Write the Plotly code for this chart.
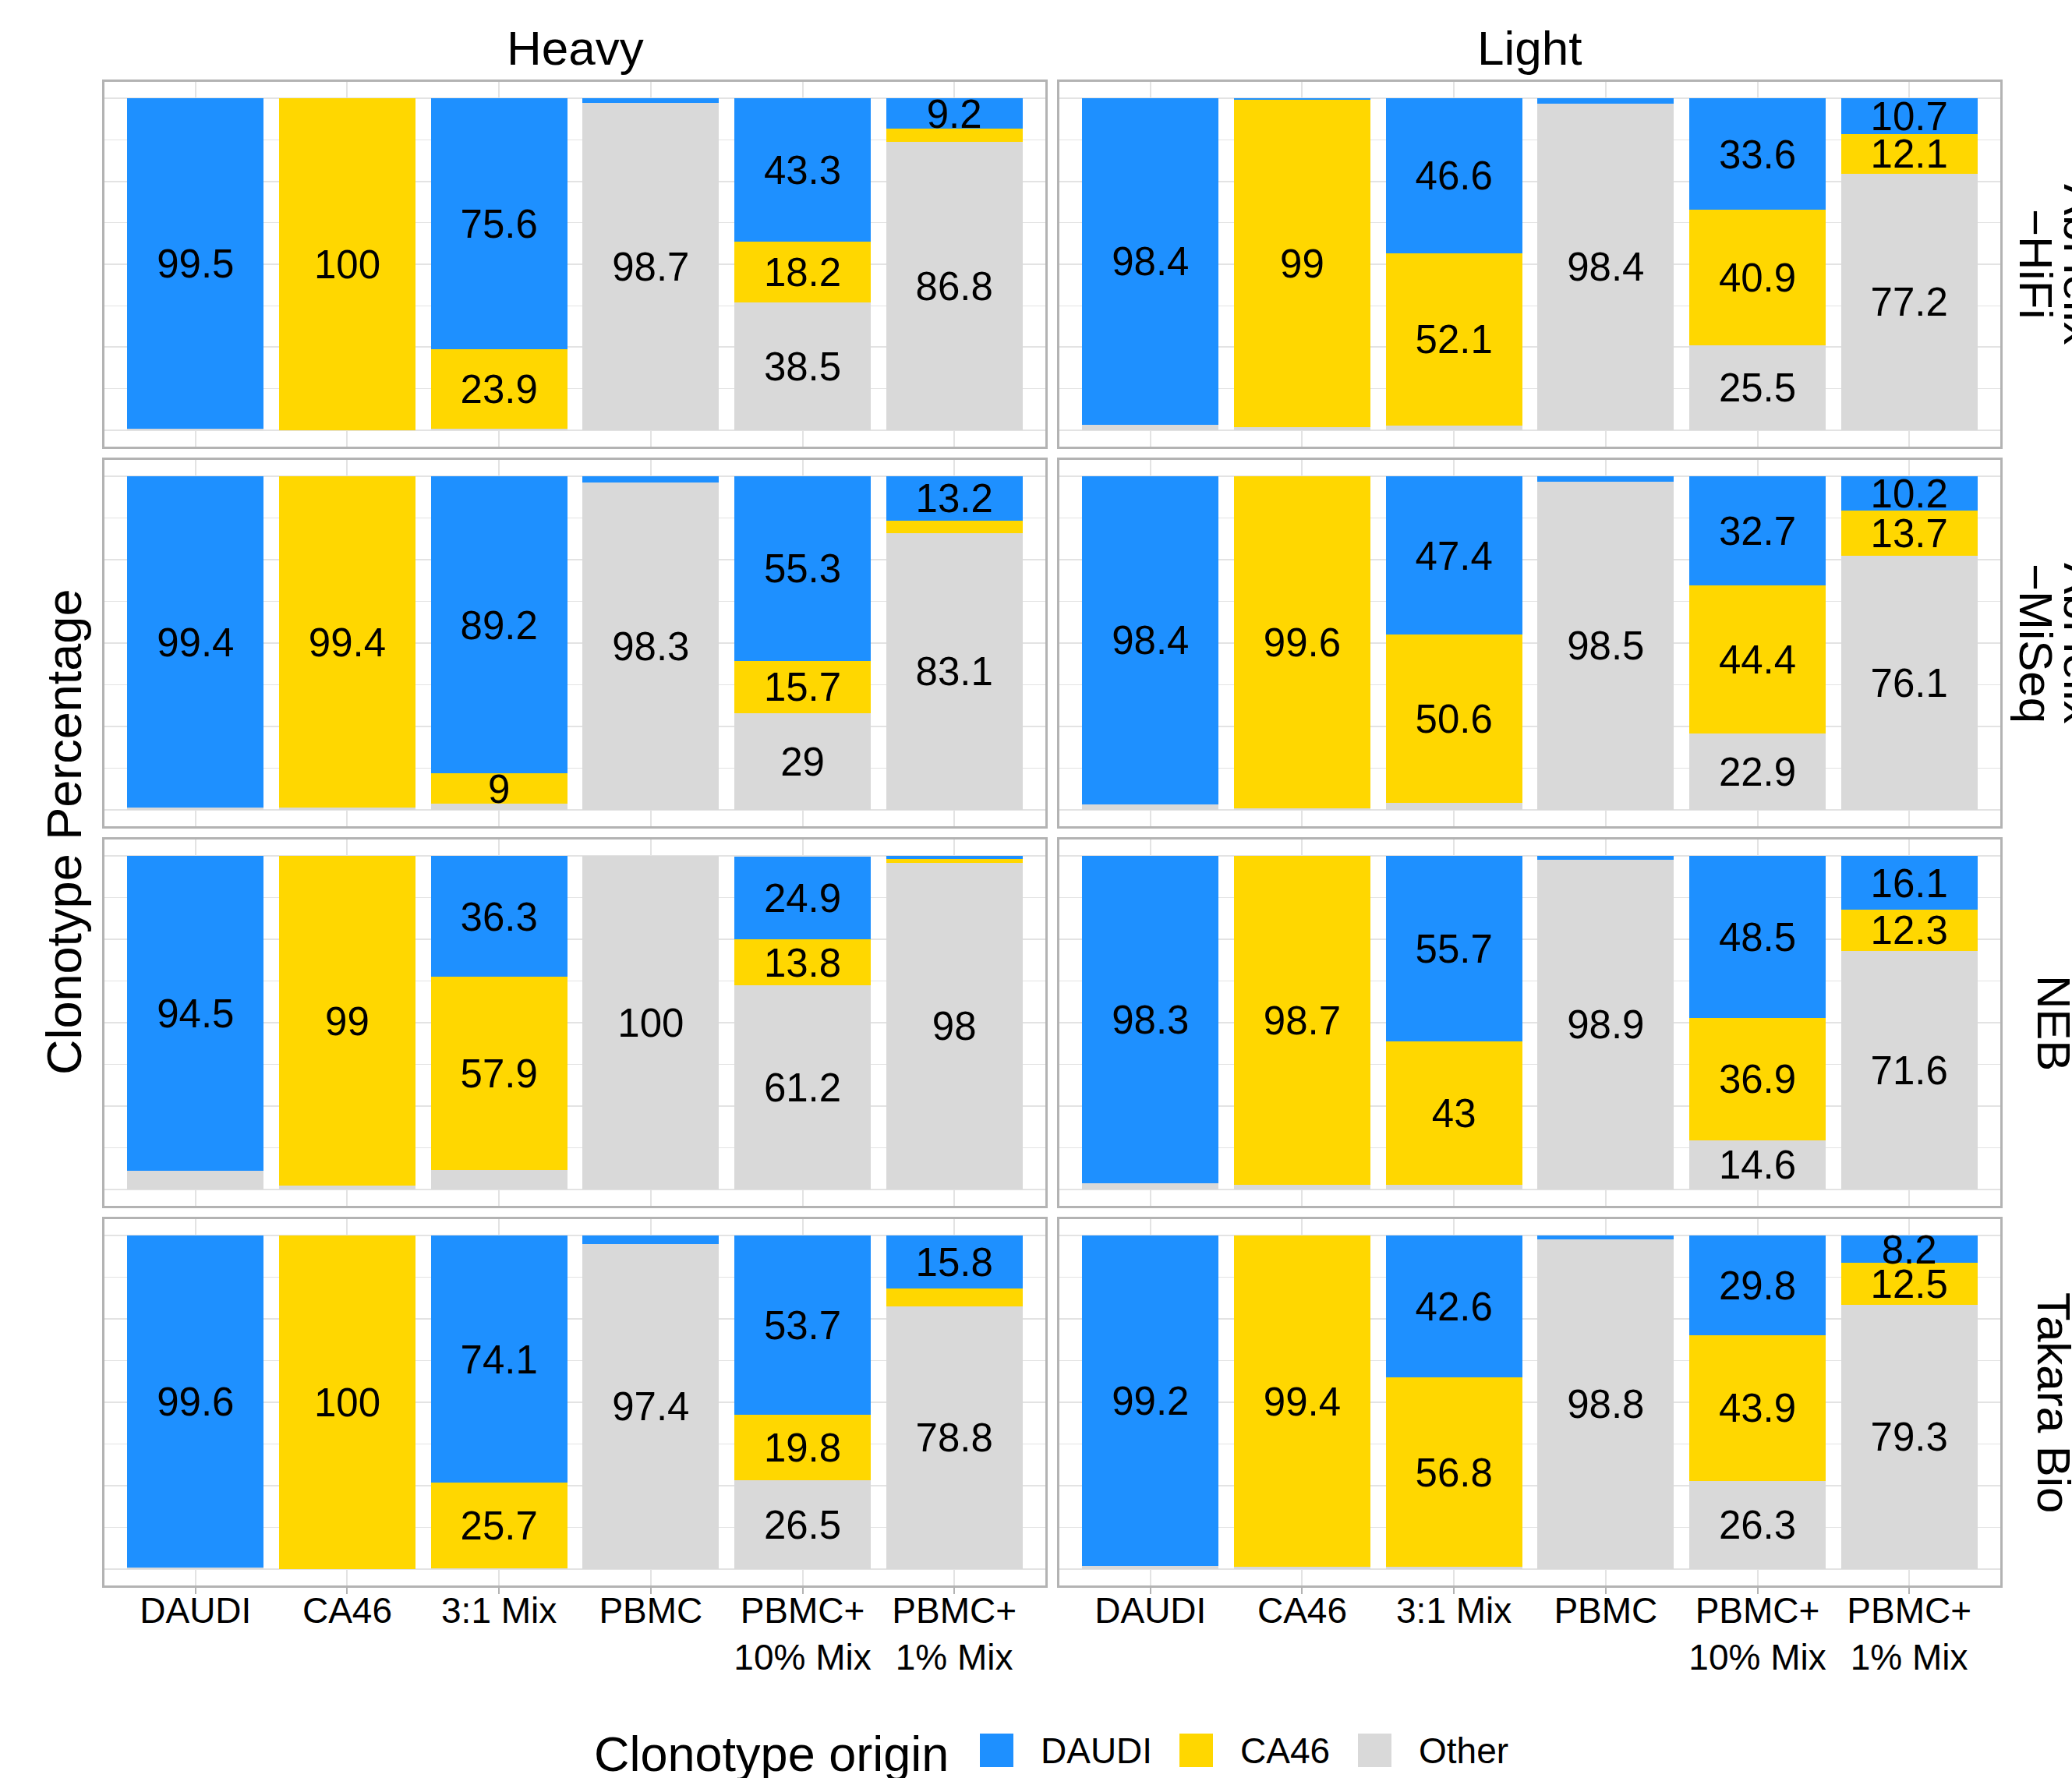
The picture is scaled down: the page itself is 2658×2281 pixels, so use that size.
import plotly.graph_objects as go

W, H = 2658, 2281

# ---------------- data ----------------
samples = ["DAUDI", "CA46", "3:1 Mix", "PBMC", "PBMC+ 10% Mix", "PBMC+ 1% Mix"]
sample_ticks = ["DAUDI", "CA46", "3:1 Mix", "PBMC", "PBMC+<br>10% Mix", "PBMC+<br>1% Mix"]
chains = ["Heavy", "Light"]
platform_line1 = ["AbHelix", "AbHelix", "NEB", "Takara Bio"]
platform_line2 = ["\u2212HiFi", "\u2212MiSeq", "", ""]
origins = ["DAUDI", "CA46", "Other"]

# rows: AbHelix-HiFi, AbHelix-MiSeq, NEB, Takara Bio ; columns follow `samples`
daudi_heavy = [
    [99.5, 0, 75.6, 1.3, 43.3, 9.2],
    [99.4, 0, 89.2, 1.7, 55.3, 13.2],
    [94.5, 0, 36.3, 0, 24.9, 0.8],
    [99.6, 0, 74.1, 2.6, 53.7, 15.8],
]
ca46_heavy = [
    [0, 100, 23.9, 0, 18.2, 4.0],
    [0, 99.4, 9, 0, 15.7, 3.7],
    [0, 99, 57.9, 0, 13.8, 1.2],
    [0, 100, 25.7, 0, 19.8, 5.4],
]
other_heavy = [
    [0.5, 0, 0.5, 98.7, 38.5, 86.8],
    [0.6, 0.6, 1.8, 98.3, 29, 83.1],
    [5.5, 1, 5.8, 100, 61.2, 98],
    [0.4, 0, 0.2, 97.4, 26.5, 78.8],
]
daudi_light = [
    [98.4, 0.2, 46.6, 1.6, 33.6, 10.7],
    [98.4, 0, 47.4, 1.5, 32.7, 10.2],
    [98.3, 0, 55.7, 1.1, 48.5, 16.1],
    [99.2, 0, 42.6, 1.2, 29.8, 8.2],
]
ca46_light = [
    [0, 99, 52.1, 0, 40.9, 12.1],
    [0, 99.6, 50.6, 0, 44.4, 13.7],
    [0, 98.7, 43, 0, 36.9, 12.3],
    [0, 99.4, 56.8, 0, 43.9, 12.5],
]
other_light = [
    [1.6, 0.8, 1.3, 98.4, 25.5, 77.2],
    [1.6, 0.4, 2.0, 98.5, 22.9, 76.1],
    [1.7, 1.3, 1.3, 98.9, 14.6, 71.6],
    [0.8, 0.6, 0.6, 98.8, 26.3, 79.3],
]

# ---------------- style ----------------
colors = {"DAUDI": "#1E90FF", "CA46": "#FFD700", "Other": "#D9D9D9"}
FONT = "Liberation Sans, Arial, Helvetica, sans-serif"
BORDER = "#b3b3b3"
GRID = "#e3e3e3"
LABEL_MIN = 6
LABEL_DY = -1.2   # small optical correction so glyphs sit at segment centres

col_px = [(134, 1341), (1359, 2566)]
row_px = [(105, 573), (590, 1060), (1077, 1547), (1564, 2034)]

data_by_chain = {
    "Heavy": (daudi_heavy, ca46_heavy, other_heavy),
    "Light": (daudi_light, ca46_light, other_light),
}


def fmt(v):
    return f"{v:g}"


fig = go.Figure()
layout_axes = {}

for r in range(4):
    for c, chain in enumerate(chains):
        k = r * 2 + c + 1
        xa = "x" if k == 1 else f"x{k}"
        ya = "y" if k == 1 else f"y{k}"
        d_arr, c_arr, o_arr = data_by_chain[chain]
        d = d_arr[r]
        ca = c_arr[r]
        o = o_arr[r]
        # stacked bars: Other bottom, CA46 middle, DAUDI top
        for name, vals in (("Other", o), ("CA46", ca), ("DAUDI", d)):
            fig.add_trace(go.Bar(
                x=samples, y=vals, name=name, marker_color=colors[name],
                marker_line_width=0, xaxis=xa, yaxis=ya, showlegend=False,
                hoverinfo="skip",
            ))
        # labels at segment centres
        lx, ly, lt = [], [], []
        for i, s in enumerate(samples):
            base = 0.0
            for vals in (o, ca, d):
                v = vals[i]
                if v >= LABEL_MIN:
                    lx.append(s)
                    ly.append(base + v / 2 + LABEL_DY)
                    lt.append(fmt(v))
                base += v
        fig.add_trace(go.Scatter(
            x=lx, y=ly, text=lt, mode="text", textposition="middle center",
            textfont=dict(size=51, color="black", family=FONT),
            xaxis=xa, yaxis=ya, showlegend=False, hoverinfo="skip",
        ))

        x0, x1 = col_px[c]
        y0, y1 = row_px[r]
        bottom = r == 3
        layout_axes[("xaxis" if k == 1 else f"xaxis{k}")] = dict(
            domain=[x0 / W, x1 / W], anchor=ya, type="category",
            categoryorder="array", categoryarray=samples,
            range=[-0.6, 5.6], showgrid=True, gridcolor=GRID, gridwidth=2,
            showline=True, mirror=True, linecolor=BORDER, linewidth=3,
            zeroline=False,
            ticks="outside" if bottom else "", ticklen=8, tickwidth=2,
            tickcolor=BORDER, ticklabelstandoff=-18,
            tickvals=samples, ticktext=sample_ticks,
            showticklabels=bottom,
            tickfont=dict(size=46, color="black", family=FONT),
            fixedrange=True,
        )
        layout_axes[("yaxis" if k == 1 else f"yaxis{k}")] = dict(
            domain=[1 - y1 / H, 1 - y0 / H], anchor=xa,
            range=[-5, 105], tick0=0, dtick=25, showgrid=True,
            gridcolor=GRID, gridwidth=2,
            minor=dict(dtick=12.5, showgrid=True, gridcolor=GRID, gridwidth=1),
            showticklabels=False, ticks="",
            showline=True, mirror=True, linecolor=BORDER, linewidth=3,
            zeroline=False, fixedrange=True,
        )

annotations = []
# column strips
for c, chain in enumerate(chains):
    x0, x1 = col_px[c]
    annotations.append(dict(
        text=chain, x=(x0 + x1) / 2 / W, y=1 - 62 / H, xref="paper", yref="paper",
        xanchor="center", yanchor="middle", showarrow=False,
        font=dict(size=62, color="black", family=FONT)))
# row strips (rotated, text reads top-to-bottom)
for r in range(4):
    y0, y1 = row_px[r]
    yc = 1 - (y0 + y1) / 2 / H
    if platform_line2[r]:
        annotations.append(dict(
            text=platform_line1[r], x=2668 / W, y=yc, xref="paper", yref="paper",
            xanchor="center", yanchor="middle", textangle=90, showarrow=False,
            font=dict(size=60, color="black", family=FONT)))
        annotations.append(dict(
            text=platform_line2[r], x=2611 / W, y=yc, xref="paper", yref="paper",
            xanchor="center", yanchor="middle", textangle=90, showarrow=False,
            font=dict(size=60, color="black", family=FONT)))
    else:
        annotations.append(dict(
            text=platform_line1[r], x=2635 / W, y=yc, xref="paper", yref="paper",
            xanchor="center", yanchor="middle", textangle=90, showarrow=False,
            font=dict(size=60, color="black", family=FONT)))

# y-axis title
annotations.append(dict(
    text="Clonotype Percentage", x=82 / W, y=1 - 1068 / H, xref="paper", yref="paper",
    xanchor="center", yanchor="middle", textangle=-90, showarrow=False,
    font=dict(size=63, color="black", family=FONT)))

# legend (drawn manually for large swatches)
leg_y = 2246
annotations.append(dict(
    text="Clonotype origin", x=760 / W, y=1 - 2250 / H, xref="paper", yref="paper",
    xanchor="left", yanchor="middle", showarrow=False,
    font=dict(size=63, color="black", family=FONT)))
swatch_x = [1257, 1513, 1742]
shapes = []
for name, sx in zip(origins, swatch_x):
    shapes.append(dict(
        type="rect", xref="paper", yref="paper",
        x0=sx / W, x1=(sx + 43) / W, y0=1 - 2267 / H, y1=1 - 2224 / H,
        fillcolor=colors[name], line=dict(width=0)))
    annotations.append(dict(
        text=name, x=(sx + 76) / W, y=1 - leg_y / H, xref="paper", yref="paper",
        xanchor="left", yanchor="middle", showarrow=False,
        font=dict(size=46, color="black", family=FONT)))

fig.update_layout(
    width=W, height=H, margin=dict(l=0, r=0, t=0, b=0),
    paper_bgcolor="white", plot_bgcolor="white",
    barmode="stack", bargap=0.1, showlegend=False,
    font=dict(family=FONT, color="black"),
    annotations=annotations, shapes=shapes,
    **layout_axes,
)

fig.write_html("out.html", config={"displayModeBar": False},
               post_script="document.body.style.margin='0';document.body.style.overflow='hidden';")
